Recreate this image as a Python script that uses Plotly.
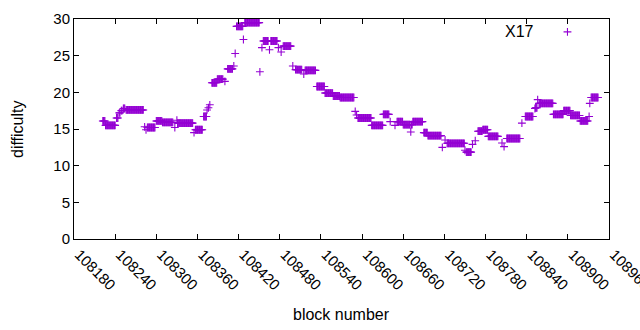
import numpy as np
import plotly.graph_objects as go

# Runs of consecutive blocks sharing (approximately) the same difficulty
run_start = [108222, 108226, 108242, 108246, 108249, 108252, 108256, 108283, 108285, 108287,
             108300, 108309, 108327, 108330, 108331, 108355, 108357, 108369, 108374, 108376,
             108378, 108381, 108389, 108400, 108404, 108413, 108415, 108417, 108427, 108429,
             108451, 108454, 108456, 108465, 108467, 108478, 108482, 108485, 108499, 108503,
             108515, 108517, 108534, 108546, 108558, 108568, 108590, 108592, 108594, 108614,
             108631, 108641, 108648, 108651, 108660, 108671, 108672, 108674, 108690, 108696,
             108717, 108721, 108724, 108750, 108752, 108761, 108765, 108769, 108776, 108784,
             108804, 108807, 108811, 108833, 108838, 108852, 108853, 108856, 108858, 108879,
             108894, 108904, 108918, 108931, 108932, 108934]
run_end = [108225, 108240, 108244, 108247, 108250, 108254, 108281, 108283, 108285, 108298,
           108308, 108324, 108327, 108330, 108353, 108355, 108367, 108373, 108374, 108376,
           108378, 108388, 108397, 108400, 108411, 108413, 108415, 108426, 108427, 108450,
           108451, 108454, 108463, 108465, 108476, 108478, 108482, 108496, 108499, 108512,
           108515, 108532, 108545, 108557, 108567, 108588, 108590, 108592, 108613, 108630,
           108639, 108641, 108648, 108659, 108670, 108671, 108673, 108688, 108695, 108715,
           108717, 108721, 108749, 108750, 108759, 108761, 108765, 108775, 108783, 108798,
           108804, 108807, 108830, 108833, 108849, 108852, 108855, 108856, 108878, 108893,
           108903, 108917, 108929, 108931, 108932, 108944]
run_value = [16.1, 15.5, 16.5, 17.2, 17.5, 17.8, 17.6, 15.3, 14.9, 15.2,
             16.1, 15.9, 15.2, 16.2, 15.8, 14.5, 14.9, 16.7, 17.6, 17.9,
             18.3, 21.3, 21.8, 21.5, 23.2, 23.6, 25.3, 29.0, 27.2, 29.5,
             22.8, 26.1, 27.0, 25.8, 27.0, 26.1, 25.5, 26.3, 23.6, 23.1,
             22.5, 23.0, 20.8, 19.9, 19.5, 19.3, 17.4, 16.9, 16.5, 15.5,
             17.0, 16.0, 15.5, 16.0, 15.6, 14.6, 15.6, 16.0, 14.5, 14.1,
             12.5, 13.5, 13.05, 12.1, 11.85, 12.9, 13.4, 14.7, 14.9, 14.0,
             13.1, 12.6, 13.7, 15.8, 16.7, 17.8, 17.9, 19.0, 18.5, 17.0,
             17.5, 16.85, 16.1, 16.7, 18.5, 19.3]

x_ticks = list(range(108180, 108961, 60))
y_ticks = [0, 5, 10, 15, 20, 25, 30]

blocks = np.concatenate([np.arange(s, e + 1) for s, e in zip(run_start, run_end)])
difficulty = np.concatenate([np.full(e - s + 1, v) for s, e, v in zip(run_start, run_end, run_value)])

color = "#9400D3"
font = dict(family="Liberation Sans, Arial, sans-serif", size=16, color="black")
tick_font = dict(family="Liberation Sans, Arial, sans-serif", size=15, color="black")

fig = go.Figure()
fig.add_trace(go.Scatter(
    x=blocks, y=difficulty, mode="markers", name=" ",
    marker=dict(symbol="cross-thin", size=5.6, color=color,
                line=dict(width=1.1, color=color)),
    showlegend=True,
))

axis_common = dict(showline=True, linecolor="black", linewidth=1, mirror="ticks",
                   ticks="inside", ticklen=5, tickcolor="black", showgrid=False,
                   zeroline=False, tickfont=tick_font, automargin=False,
                   ticklabeloverflow="allow")

fig.update_layout(
    width=640, height=330,
    margin=dict(l=74, r=31, t=19, b=91),
    paper_bgcolor="white", plot_bgcolor="white",
    font=font,
    xaxis=dict(range=[108180, 108960], tickmode="array", tickvals=x_ticks,
               ticktext=[str(v) for v in x_ticks], tickangle=45,
               ticklabelshift=5, **axis_common),
    yaxis=dict(range=[0, 30], tickmode="array", tickvals=y_ticks,
               ticktext=[str(v) for v in y_ticks], **axis_common),
    legend=dict(x=0.885, y=0.941, xanchor="left", yanchor="middle",
                bgcolor="rgba(0,0,0,0)", borderwidth=0, font=font),
    annotations=[
        dict(text="X17", xref="paper", yref="paper", x=0.864, y=0.941,
             xanchor="right", yanchor="middle", showarrow=False, font=font),
        dict(text="difficulty", xref="paper", yref="paper", x=-0.1065, y=0.5,
             xanchor="center", yanchor="middle", textangle=-90, showarrow=False, font=font),
        dict(text="block number", xref="paper", yref="paper", x=0.5, y=-0.345,
             xanchor="center", yanchor="middle", showarrow=False, font=font),
    ],
)

fig.write_html("out.html", config={"displayModeBar": False},
               post_script="document.body.style.margin='0';document.body.style.overflow='hidden';")
